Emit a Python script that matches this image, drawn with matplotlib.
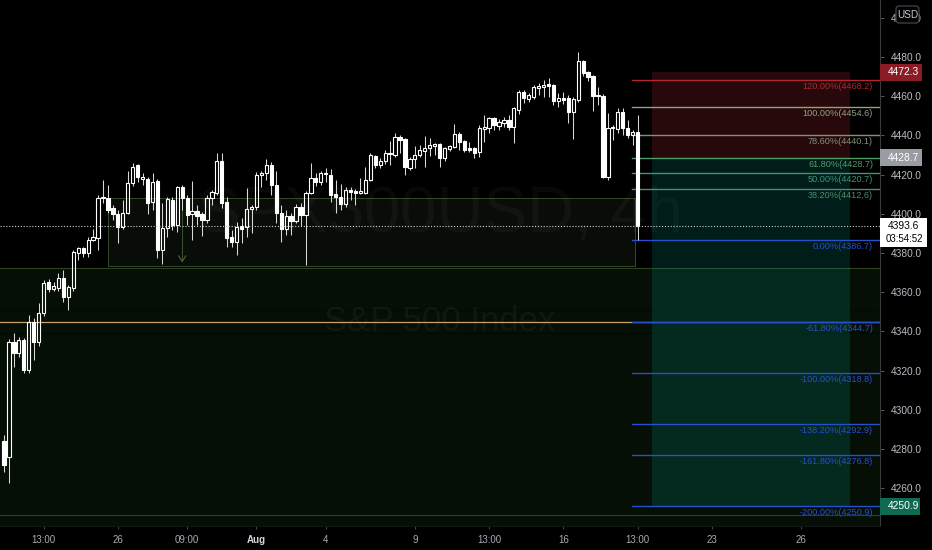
import matplotlib
matplotlib.use("Agg")
import matplotlib.pyplot as plt
from matplotlib.patches import Rectangle, FancyBboxPatch
from matplotlib.transforms import IdentityTransform

# ---------------- data ----------------
opens = [4284, 4276, 4334.7, 4328.8, 4335.6, 4320.3, 4345, 4334.7, 4349.2, 4365.4,
         4361.5, 4362, 4367, 4357.7, 4362, 4380.2, 4382.4, 4379.8, 4386.6, 4387.5,
         4407.9, 4407.9, 4402.8, 4399.9, 4393.4, 4400.6, 4415.6, 4424.9, 4417.6, 4417.6,
         4406.2, 4416.9, 4381.5, 4392.6, 4407, 4394.3, 4413.5, 4407.9, 4399.9, 4401.6,
         4399.9, 4396.8, 4407.9, 4410.8, 4427.1, 4406.2, 4388.3, 4385.8, 4393.8, 4393.1,
         4402.3, 4403.3, 4419.8, 4420.7, 4424.9, 4414.7, 4400.6, 4392.1, 4398.9, 4396.5,
         4403.6, 4399.4, 4410.8, 4418.1, 4416.4, 4420.2, 4419.8, 4410.1, 4408.4, 4405,
         4412.1, 4411, 4410.8, 4410.8, 4417.2, 4429.5, 4424.9, 4427.1, 4430.3, 4430,
         4439.3, 4438, 4423.2, 4427.8, 4430, 4432.2, 4433.4, 4434.6, 4435.6, 4428.3,
         4433, 4434.2, 4440.7, 4437.3, 4433.2, 4433.4, 4431.7, 4443.1, 4443.6, 4448.7,
         4444.8, 4446.5, 4447.9, 4444.1, 4453, 4462.3, 4458.4, 4459.7, 4464.3, 4464.8,
         4466, 4465.7, 4457.7, 4458.9, 4458.9, 4452.1, 4458.1, 4478.1, 4472.5, 4470.3,
         4460.6, 4460.1, 4418.9, 4443.6, 4443.1, 4452.1, 4443.6, 4440.2, 4441.9]
highs = [4287, 4336, 4339.2, 4337.3, 4336.5, 4348.4, 4346.8, 4354.6, 4366, 4366.6,
         4365, 4369.6, 4371.3, 4363.7, 4381.5, 4383, 4383, 4388, 4392, 4409.6,
         4417.2, 4414.7, 4404.5, 4402, 4407, 4422, 4425.8, 4425.5, 4420.7, 4418.6,
         4420.7, 4418, 4405.4, 4408.7, 4408.7, 4414, 4414.5, 4409.6, 4416.9, 4404.5,
         4401, 4409.6, 4412.1, 4430.9, 4430.9, 4408.7, 4391.7, 4396, 4397.7, 4413,
         4404.5, 4421.5, 4422, 4427.8, 4426.6, 4422, 4404.5, 4402, 4400.5, 4405,
         4405.4, 4411.5, 4425.8, 4421, 4422, 4423.2, 4422.7, 4417.2, 4415.2, 4413.5,
         4413.5, 4412.5, 4418.1, 4424, 4431.2, 4430, 4428.3, 4432.6, 4437.3, 4441.4,
         4440.2, 4438.5, 4429.1, 4434.6, 4435.2, 4439.7, 4438.5, 4436, 4436.3, 4434.2,
         4435.2, 4445.8, 4441.9, 4437.7, 4436.4, 4434.2, 4445.3, 4450.4, 4449.5, 4449.5,
         4448.5, 4449.5, 4450.4, 4454.6, 4463.2, 4463.2, 4461.5, 4465.7, 4466.6, 4468.3,
         4469.1, 4466, 4461.5, 4462.3, 4460.6, 4459.7, 4482.7, 4478.5, 4473, 4470.8,
         4464.8, 4461, 4451.3, 4445.3, 4454.2, 4453.8, 4447.9, 4442.8, 4450.4]
lows = [4268, 4262.7, 4322, 4327, 4319, 4319, 4325.4, 4332.5, 4348, 4360,
        4360.5, 4360.7, 4355.2, 4350.9, 4360.5, 4376.4, 4378, 4377.8, 4386, 4381.5,
        4405.4, 4400.6, 4396.8, 4385, 4392.5, 4400, 4414, 4416.4, 4414.7, 4399.9,
        4402, 4377.3, 4374.4, 4388.3, 4391.7, 4390.9, 4402, 4394.3, 4386.6, 4394.3,
        4388.7, 4395.2, 4404.5, 4409.5, 4402.8, 4383.2, 4383.2, 4379, 4385, 4388.3,
        4390, 4402, 4413.8, 4417.2, 4409.6, 4395.2, 4385.8, 4389.2, 4389, 4395.2,
        4393.8, 4373.9, 4410, 4414.2, 4414.5, 4416.4, 4406.2, 4400.3, 4401.9, 4403.3,
        4407, 4404.5, 4410, 4410.3, 4416.5, 4423.2, 4423.6, 4425.4, 4424.9, 4429,
        4430.9, 4419.8, 4422.4, 4423.2, 4429, 4424, 4429.5, 4430, 4424, 4427,
        4432, 4433.5, 4432.6, 4431.7, 4431.6, 4428.3, 4428.8, 4436.8, 4441, 4443,
        4443, 4444.4, 4442.8, 4436.3, 4451, 4456.7, 4457, 4458.4, 4460.6, 4459.7,
        4459.7, 4455.5, 4454.6, 4456, 4446.5, 4438, 4457, 4470.3, 4468, 4452.6,
        4455.5, 4418.1, 4417.2, 4437.7, 4441, 4440.2, 4438.5, 4435.1, 4386.7]
closes = [4272, 4334.7, 4328.8, 4335.6, 4320.3, 4345, 4334.7, 4349.2, 4364.9, 4361.5,
          4363.2, 4367, 4357.7, 4362.8, 4380.7, 4382.4, 4379.8, 4386.6, 4388, 4407.9,
          4408.4, 4402, 4400, 4393.4, 4400.6, 4415.6, 4424, 4418.6, 4418.9, 4405.7,
          4416.4, 4381.5, 4392.6, 4407.4, 4394.3, 4413.5, 4407.9, 4399.4, 4401.6, 4398.9,
          4396.8, 4407.9, 4411.3, 4427.1, 4405.4, 4387.5, 4385.8, 4393.1, 4392.4, 4402.3,
          4403.6, 4419.8, 4421, 4424.9, 4414.7, 4400.6, 4392.1, 4398.9, 4396.5, 4403.6,
          4399.4, 4410.8, 4418.1, 4416.4, 4420.7, 4420.7, 4409.6, 4408.4, 4405, 4412.1,
          4411, 4410.8, 4411.6, 4417.2, 4430, 4424.9, 4427.1, 4430.9, 4430.9, 4439.3,
          4437.7, 4423.7, 4427.8, 4430, 4432.6, 4433.4, 4435.1, 4435.6, 4428.3, 4433.4,
          4434.6, 4440.7, 4436.8, 4432.6, 4432.8, 4431.2, 4443.6, 4444.4, 4448.7, 4445.3,
          4447, 4447.9, 4444.1, 4453.8, 4462.3, 4459, 4460.6, 4464.8, 4465.2, 4465.7,
          4465, 4457.7, 4458.9, 4458.1, 4452.1, 4458.4, 4478.1, 4471.7, 4469.6, 4460.1,
          4460.1, 4418.9, 4443.6, 4444, 4452.1, 4443.6, 4440.2, 4441.9, 4393.6]

xtick_pos = [8, 23, 37, 51, 65, 83, 98, 113, 128, 143, 161]
xtick_labels = ['13:00', '26', '09:00', 'Aug', '4', '9', '13:00', '16', '13:00', '23', '26']
price_ticks = [4260, 4280, 4300, 4320, 4340, 4360, 4380, 4400, 4420, 4440, 4460, 4480, 4500]

fib_labels = ['120.00%', '100.00%', '78.60%', '61.80%', '50.00%', '38.20%', '0.00%',
              '-61.80%', '-100.00%', '-138.20%', '-161.80%', '-200.00%']
fib_prices = [4468.2, 4454.6, 4440.1, 4428.7, 4420.7, 4412.6, 4386.7,
              4344.7, 4318.8, 4292.9, 4276.8, 4250.9]
fib_colors = ['#b3262f', '#8fa283', '#84917a', '#4f9c66', '#3f9676', '#4f8c6c', '#2650cc',
              '#2650cc', '#2650cc', '#2650cc', '#2650cc', '#2650cc']

last_price = 4393.6
countdown = '03:54:52'
entry_price = 4428.7
stop_price = 4472.3
target_price = 4250.9

# ---------------- figure ----------------
W, H = 932, 550
FONT = 'Liberation Sans'
fig = plt.figure(figsize=(W / 100, H / 100), dpi=100, facecolor='black')
ax = fig.add_axes([0, 24 / H, 880 / W, 526 / H])
ax.set_facecolor('black')
ax.set_xlim(-0.81, 176.97)
ax.set_ylim(4240.7, 4509.1)

# background boxes
ax.add_patch(Rectangle((-5, 4230), 190, 4372.3 - 4230, facecolor=(0.30, 0.69, 0.31, 0.085),
                       edgecolor='none', zorder=0.5))
ax.axhline(4372.3, color='#2f4220', lw=0.8, zorder=0.6)
ax.axhline(4246.3, color='#2f4220', lw=0.8, zorder=0.6)
ax.axhline(4350.7, color='#050805', lw=0.8, zorder=0.6)
ax.axhline(4339.0, color='#050805', lw=0.8, zorder=0.6)
ax.add_patch(Rectangle((21, 4373.6), 127.4 - 21, 4408.3 - 4373.6,
                       facecolor=(0.35, 0.5, 0.3, 0.10), edgecolor='#34482a', lw=0.7, zorder=0.5))
ax.axhline(4345.0, color='#c9a46a', lw=0.9, zorder=2)

# position tool
ax.add_patch(Rectangle((130.9, entry_price), 40, stop_price - entry_price,
                       facecolor=(0.95, 0.21, 0.27, 0.17), edgecolor='none', zorder=0.7))
ax.add_patch(Rectangle((130.9, target_price), 40, entry_price - target_price,
                       facecolor=(0.0, 0.59, 0.53, 0.20), edgecolor='none', zorder=0.7))

# watermark
ax.text(88.1, 4399.4, 'SPX500USD, 4h', fontsize=47, family=FONT, color=(1, 1, 1, 0.035),
        ha='center', va='center', zorder=0.8)
ax.text(88.1, 4344.8, 'S&P 500 Index', fontsize=25, family=FONT, color=(1, 1, 1, 0.045),
        ha='center', va='center', zorder=0.8)

# fib levels
for lab, p, c in zip(fib_labels, fib_prices, fib_colors):
    ax.plot([126.9, 177], [p, p], color=c, lw=1.0, zorder=2)
    ax.annotate(f'{lab}({p:.1f})', xy=(175.56, p), xytext=(0, -4.8), textcoords='offset points',
                ha='right', va='center', fontsize=6.6, family=FONT, color=c, zorder=5)

# arrow drawing
ax.plot([36, 36], [4408.3, 4377], color='#3b5230', lw=0.7, zorder=1)
ax.plot([35.3, 36, 36.7], [4378.5, 4375.6, 4378.5], color='#4a6a38', lw=0.8, zorder=1)

# candles
bw = 0.66
for i, (o, h, l, c) in enumerate(zip(opens, highs, lows, closes)):
    top, bot = max(o, c), min(o, c)
    if top - bot < 0.6:
        top = bot + 0.6
    ax.vlines(i, top, h, color='#d8d8d8', lw=0.75, zorder=3)
    ax.vlines(i, l, bot, color='#d8d8d8', lw=0.75, zorder=3)
    if c >= o:
        ax.add_patch(Rectangle((i - bw / 2, bot), bw, top - bot, facecolor='none',
                               edgecolor='white', lw=0.8, zorder=3))
    else:
        ax.add_patch(Rectangle((i - bw / 2, bot), bw, top - bot, facecolor='white',
                               edgecolor='white', lw=0.8, zorder=3))

# last price dotted line
ax.axhline(last_price, color='#cfcfcf', lw=0.8, ls=(0, (1, 1.6)), zorder=4)

# axes styling
for s in ['top', 'left']:
    ax.spines[s].set_visible(False)
ax.spines['right'].set_color('#3a3a3a')
ax.spines['bottom'].set_color('#141414')
ax.yaxis.tick_right()
ax.set_yticks(price_ticks)
ax.set_yticklabels([f'{v:.1f}' for v in price_ticks])
ax.tick_params(axis='y', colors='#5a5a5a', length=3, width=0.7, pad=5, labelsize=7.3,
               labelcolor='#b9bcc4')
ax.set_xticks(xtick_pos)
ax.set_xticklabels(xtick_labels)
ax.tick_params(axis='x', colors='#4a4a4a', length=2.5, width=0.7, pad=4, labelsize=7,
               labelcolor='#a8abb3')
for t in ax.get_xticklabels() + ax.get_yticklabels():
    t.set_family(FONT)
for t in ax.get_xticklabels():
    if t.get_text() == 'Aug':
        t.set_fontweight('bold')
        t.set_color('#d1d4dc')

fig.canvas.draw()


def ypix(price):
    return ax.transData.transform((0, price))[1]


def badge(price, text, bg, fg, x0=880, w=42, h=17):
    yc = ypix(price)
    fig.patches.append(Rectangle((x0, yc - h / 2), w, h, transform=IdentityTransform(),
                                 facecolor=bg, edgecolor='none', zorder=10))
    fig.text((x0 + 8) / W, yc / H, text, color=fg, fontsize=7.4, family=FONT,
             ha='left', va='center', zorder=11)


badge(stop_price, f'{stop_price:.1f}', '#8a1c25', 'white')
badge(entry_price, f'{entry_price:.1f}', '#9a9ca4', 'white')
badge(target_price, f'{target_price:.1f}', '#0e6a53', 'white', w=40)

# last price box (two lines, extends downward)
yc = ypix(last_price)
fig.patches.append(Rectangle((880, yc - 21), 47, 29, transform=IdentityTransform(),
                             facecolor='white', edgecolor='none', zorder=10))
fig.text(888 / W, yc / H, f'{last_price:.1f}', color='black', fontsize=7.4, family=FONT,
         ha='left', va='center', zorder=11)
fig.text(886 / W, (yc - 13) / H, countdown, color='black', fontsize=7.0, family=FONT,
         ha='left', va='center', zorder=11)

# USD box
fig.patches.append(FancyBboxPatch((896, H - 23), 23, 17, boxstyle='round,pad=0,rounding_size=3',
                                  transform=IdentityTransform(), facecolor='black',
                                  edgecolor='#4a4d55', lw=0.8, zorder=10))
fig.text(907.5 / W, (H - 14.5) / H, 'USD', color='#c8cad0', fontsize=7.2, family=FONT,
         ha='center', va='center', zorder=11)

fig.savefig('out.png', dpi=100, facecolor='black')
